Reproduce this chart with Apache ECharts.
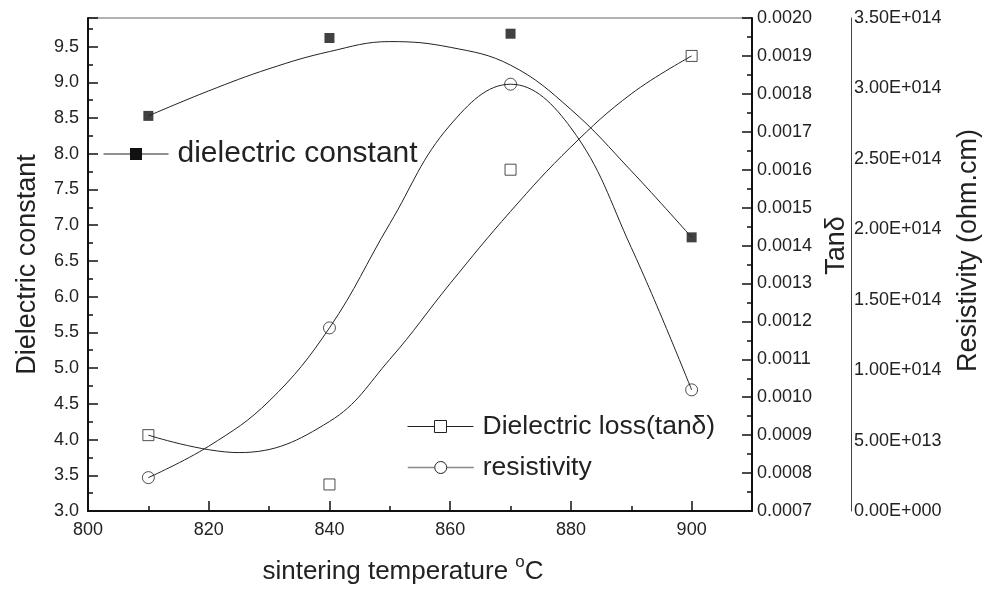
<!DOCTYPE html>
<html>
<head>
<meta charset="utf-8">
<script src="https://cdn.jsdelivr.net/npm/echarts@6/dist/echarts.min.js"></script>
<style>
  html, body { margin: 0; padding: 0; background: #fff; }
  #chart { width: 995px; height: 590px; }
</style>
</head>
<body>
<div id="chart"></div>
<script>
  // measured points
  var temps = [810, 840, 870, 900];
  var dielectricConstant = [8.53, 9.62, 9.68, 6.83];
  var dielectricLoss = [0.00090, 0.00077, 0.00160, 0.00190];
  var resistivity = [2.37e13, 1.30e14, 3.03e14, 8.6e13];

  // fitted curves
  var fitTemps = [810, 820, 830, 840, 850, 860, 870, 880, 890, 900];
  var dcFit = [8.53, 8.88, 9.19, 9.43, 9.57, 9.49, 9.24, 8.62, 7.76, 6.83];
  var resFit = [2.37e13, 4.6e13, 7.8e13, 1.30e14, 2.04e14, 2.74e14, 3.03e14, 2.72e14, 1.87e14, 8.6e13];
  var lossFitTemps = [810, 825, 840, 850, 860, 870, 880, 890, 900];
  var lossFit = [0.00090, 0.000854, 0.000936, 0.00110, 0.00130, 0.00149, 0.00166, 0.00180, 0.00190];

  var font = 'Liberation Sans, Arial, sans-serif';

  function pairs(xs, ys) {
    return xs.map(function (x, i) { return [x, ys[i]]; });
  }

  function sci(v) {
    if (v === 0) return '0.00E+000';
    var e = Math.floor(Math.log10(v) + 1e-9);
    var m = v / Math.pow(10, e);
    return m.toFixed(2) + 'E+' + String(e).padStart(3, '0');
  }

  var chart = echarts.init(document.getElementById('chart'));

  var labelStyle = { fontFamily: font, fontSize: 18, color: '#222' };
  var tickStyle = { color: '#111', width: 1.5 };

  chart.setOption({
    animation: false,
    grid: {
      left: 88, right: 243, top: 18, bottom: 79,
      outerBoundsMode: 'none',
      show: true, borderColor: '#666', borderWidth: 1
    },
    legend: [
      {
        data: ['dielectric constant'],
        left: 103, top: 139, padding: 0,
        itemWidth: 65, itemHeight: 15,
        selectedMode: false,
        lineStyle: { width: 1 },
        itemStyle: { borderWidth: 1 },
        textStyle: { fontFamily: font, fontSize: 30, color: '#222', lineHeight: 30, padding: [0, 0, 0, 4] }
      },
      {
        data: ['Dielectric loss(tanδ)'],
        left: 407, top: 413, padding: 0,
        itemWidth: 66, itemHeight: 15,
        selectedMode: false,
        lineStyle: { width: 1 },
        itemStyle: { borderWidth: 1 },
        textStyle: { fontFamily: font, fontSize: 26.5, color: '#222', lineHeight: 26, padding: [0, 0, 0, 4] }
      },
      {
        data: [{ name: 'resistivity', lineStyle: { color: '#888', width: 1.5 } }],
        left: 407, top: 454, padding: 0,
        itemWidth: 66, itemHeight: 15,
        selectedMode: false,
        lineStyle: { width: 1 },
        itemStyle: { borderWidth: 1 },
        textStyle: { fontFamily: font, fontSize: 26.5, color: '#222', lineHeight: 26, padding: [0, 0, 0, 4] }
      }
    ],
    xAxis: [
      {
        type: 'value', min: 800, max: 910, interval: 20, position: 'bottom',
        axisLine: { lineStyle: { color: '#111', width: 2 } },
        axisTick: { inside: true, length: 10, lineStyle: tickStyle },
        axisLabel: Object.assign({ margin: 10, formatter: function (v) { return v <= 900 && v % 20 === 0 ? v : ''; } }, labelStyle),
        splitLine: { show: false },
        name: 'sintering temperature {sup|o}C',
        nameLocation: 'middle', nameGap: 43,
        nameTextStyle: {
          fontFamily: font, fontSize: 26, color: '#222', lineHeight: 36,
          padding: [0, 34, 0, 0],
          rich: { sup: { fontFamily: font, fontSize: 17, lineHeight: 17, color: '#222', verticalAlign: 'top' } }
        }
      },
      {
        type: 'value', min: 800, max: 910, interval: 10, position: 'bottom',
        axisLine: { show: false },
        axisTick: { inside: true, length: 5, lineStyle: tickStyle },
        axisLabel: { show: false },
        splitLine: { show: false }
      }
    ],
    yAxis: [
      {
        type: 'value', position: 'left', min: 3, max: 9.9, interval: 0.5,
        axisLine: { show: true, lineStyle: { color: '#111', width: 2 } },
        axisTick: { show: true, inside: true, length: 10, lineStyle: tickStyle },
        axisLabel: Object.assign({ margin: 9, formatter: function (v) { return v < 9.6 ? v.toFixed(1) : ''; } }, labelStyle),
        splitLine: { show: false },
        name: 'Dielectric constant', nameLocation: 'middle', nameGap: 47,
        nameTextStyle: { fontFamily: font, fontSize: 27, color: '#222' }
      },
      {
        type: 'value', position: 'right', min: 0.0007, max: 0.0020, interval: 0.0001,
        axisLine: { show: true, lineStyle: { color: '#111', width: 2 } },
        axisTick: { show: true, inside: true, length: 10, lineStyle: tickStyle },
        minorTick: { show: true, splitNumber: 2, length: 5, lineStyle: tickStyle },
        axisLabel: Object.assign({ margin: 5, formatter: function (v) { return v.toFixed(4); } }, labelStyle),
        splitLine: { show: false },
        name: 'Tanδ', nameLocation: 'middle', nameGap: 60,
        nameTextStyle: { fontFamily: font, fontSize: 27, color: '#222', padding: [0, 0, 0, 38] }
      },
      {
        type: 'value', position: 'right', offset: 99, min: 0, max: 3.5e14, interval: 5e13,
        axisLine: { show: true, lineStyle: { color: '#444', width: 1 } },
        axisTick: { show: false },
        axisLabel: Object.assign({ margin: 3, formatter: sci }, labelStyle),
        splitLine: { show: false },
        name: 'Resistivity (ohm.cm)', nameLocation: 'middle', nameGap: 104,
        nameTextStyle: { fontFamily: font, fontSize: 27, color: '#222', padding: [0, 0, 0, 28] }
      },
      {
        type: 'value', position: 'left', min: 3, max: 9.9, interval: 0.25,
        axisLine: { show: false },
        axisTick: { show: true, inside: true, length: 5, lineStyle: tickStyle },
        axisLabel: { show: false },
        splitLine: { show: false }
      }
    ],
    series: [
      {
        name: 'dielectric constant', type: 'line', xAxisIndex: 0, yAxisIndex: 0,
        smooth: 0.4, symbol: 'rect', showSymbol: false,
        itemStyle: { color: '#111' },
        lineStyle: { color: '#222', width: 1 },
        data: pairs(fitTemps, dcFit)
      },
      {
        name: 'dielectric constant', type: 'scatter', xAxisIndex: 0, yAxisIndex: 0,
        symbol: 'rect', symbolSize: 10,
        itemStyle: { color: '#111' },
        data: pairs(temps, dielectricConstant)
      },
      {
        name: 'Dielectric loss(tanδ)', type: 'line', xAxisIndex: 0, yAxisIndex: 1,
        smooth: 0.4, symbol: 'rect', showSymbol: false,
        itemStyle: { color: '#fff', borderColor: '#222', borderWidth: 1 },
        lineStyle: { color: '#222', width: 1 },
        data: pairs(lossFitTemps, lossFit)
      },
      {
        name: 'Dielectric loss(tanδ)', type: 'scatter', xAxisIndex: 0, yAxisIndex: 1,
        symbol: 'rect', symbolSize: 11,
        itemStyle: { color: '#fff', borderColor: '#222', borderWidth: 1 },
        data: pairs(temps, dielectricLoss)
      },
      {
        name: 'resistivity', type: 'line', xAxisIndex: 0, yAxisIndex: 2,
        smooth: 0.4, symbol: 'circle', showSymbol: false,
        itemStyle: { color: '#fff', borderColor: '#222', borderWidth: 1 },
        lineStyle: { color: '#222', width: 1 },
        data: pairs(fitTemps, resFit)
      },
      {
        name: 'resistivity', type: 'scatter', xAxisIndex: 0, yAxisIndex: 2,
        symbol: 'circle', symbolSize: 12,
        itemStyle: { color: '#fff', borderColor: '#222', borderWidth: 1 },
        data: pairs(temps, resistivity)
      }
    ]
  });
</script>
</body>
</html>
